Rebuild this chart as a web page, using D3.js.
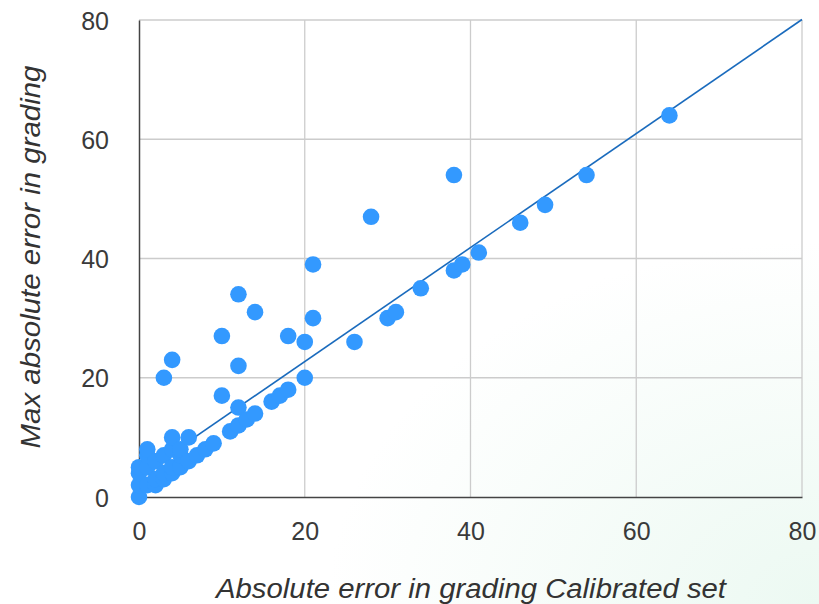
<!DOCTYPE html>
<html>
<head>
<meta charset="utf-8">
<script src="https://cdn.jsdelivr.net/npm/d3@7"></script>
<style>
  body { margin: 0; background: #fff; }
  svg { display: block; font-family: "Liberation Sans", Arial, sans-serif; }
</style>
</head>
<body>
<svg id="chart" width="819" height="604"></svg>
<script>
// calibrated set error (x) vs max error in grading (y)
const calibratedErr = [
  0, 0, 0, 0, 1, 1, 1, 1, 2, 2, 2, 3, 3, 3, 3, 4, 4, 4, 4, 4, 5, 5, 5, 6, 6, 7, 8, 9,
  10, 10, 11, 12, 12, 12, 12, 13, 14, 14, 16, 17, 18, 18, 20, 20, 21, 21, 26, 28,
  30, 31, 34, 38, 38, 39, 41, 46, 49, 54, 64
];
const maxErr = [
  0, 2, 4, 5, 2, 5, 7, 8, 2, 3, 6, 3, 4, 7, 20, 4, 5, 8, 10, 23, 5, 7, 8, 6, 10, 7, 8, 9,
  17, 27, 11, 12, 15, 22, 34, 13, 14, 31, 16, 17, 18, 27, 20, 26, 30, 39, 26, 47,
  30, 31, 35, 38, 54, 39, 41, 46, 49, 54, 64
];
const xTicks = [0, 20, 40, 60, 80];
const yTicks = [0, 20, 40, 60, 80];
// linear trendline
const trendSlope = 0.956;
const trendIntercept = 3.6;

const points = calibratedErr.map((x, i) => ({ x, y: maxErr[i] }));

const svg = d3.select('#chart');
const width = +svg.attr('width'), height = +svg.attr('height');
const margin = { top: 20, right: 17, bottom: 107, left: 139 };

// faint mint wash in the bottom right corner
const defs = svg.append('defs');
const grad = defs.append('radialGradient')
  .attr('id', 'wash')
  .attr('cx', '100%').attr('cy', '100%').attr('r', '60%');
grad.append('stop').attr('offset', '0%').attr('stop-color', '#ecf9f2');
grad.append('stop').attr('offset', '100%').attr('stop-color', '#ffffff');
svg.append('rect').attr('width', width).attr('height', height).attr('fill', 'url(#wash)');

const x = d3.scaleLinear().domain([0, 80]).range([margin.left, width - margin.right]);
const y = d3.scaleLinear().domain([0, 80]).range([height - margin.bottom, margin.top]);

// gridlines
svg.append('g')
  .attr('class', 'grid')
  .selectAll('line')
  .data(xTicks.slice(1))
  .enter()
  .append('line')
  .attr('x1', d => x(d)).attr('x2', d => x(d))
  .attr('y1', y(0)).attr('y2', y(80))
  .attr('stroke', '#cccccc').attr('stroke-width', 1.3);

svg.append('g')
  .attr('class', 'grid')
  .selectAll('line')
  .data(yTicks.slice(1))
  .enter()
  .append('line')
  .attr('x1', x(0)).attr('x2', x(80))
  .attr('y1', d => y(d)).attr('y2', d => y(d))
  .attr('stroke', '#cccccc').attr('stroke-width', 1.3);

// axes
const xAxis = svg.append('g')
  .attr('transform', `translate(0,${y(0)})`)
  .call(d3.axisBottom(x).tickValues(xTicks).tickSize(0).tickPadding(25));
const yAxis = svg.append('g')
  .attr('transform', `translate(${x(0)},0)`)
  .call(d3.axisLeft(y).tickValues(yTicks).tickSize(0).tickPadding(30));

[xAxis, yAxis].forEach(a => {
  a.select('.domain').attr('stroke', '#444').attr('stroke-width', 1.5);
  a.selectAll('text')
    .attr('font-size', 25)
    .attr('fill', '#3a3a3a')
    .attr('font-family', '"Liberation Sans", Arial, sans-serif');
});
yAxis.selectAll('text').attr('dy', '0.36em');

// trendline
svg.append('line')
  .attr('x1', x(0)).attr('y1', y(trendIntercept))
  .attr('x2', x(80)).attr('y2', y(trendSlope * 80 + trendIntercept))
  .attr('stroke', '#1a6bbd')
  .attr('stroke-width', 1.6);

// points
svg.append('g')
  .selectAll('circle')
  .data(points)
  .enter()
  .append('circle')
  .attr('cx', d => x(d.x))
  .attr('cy', d => y(d.y))
  .attr('r', 8.3)
  .attr('fill', '#3399ff');

// axis titles
svg.append('text')
  .attr('x', 471)
  .attr('y', 598)
  .attr('text-anchor', 'middle')
  .attr('font-size', 27)
  .attr('font-style', 'italic')
  .attr('fill', '#333')
  .attr('textLength', 510)
  .attr('lengthAdjust', 'spacingAndGlyphs')
  .text('Absolute error in grading Calibrated set');

svg.append('text')
  .attr('transform', 'translate(40,257) rotate(-90)')
  .attr('text-anchor', 'middle')
  .attr('font-size', 27)
  .attr('font-style', 'italic')
  .attr('fill', '#333')
  .attr('textLength', 383)
  .attr('lengthAdjust', 'spacingAndGlyphs')
  .text('Max absolute error in grading');
</script>
</body>
</html>
